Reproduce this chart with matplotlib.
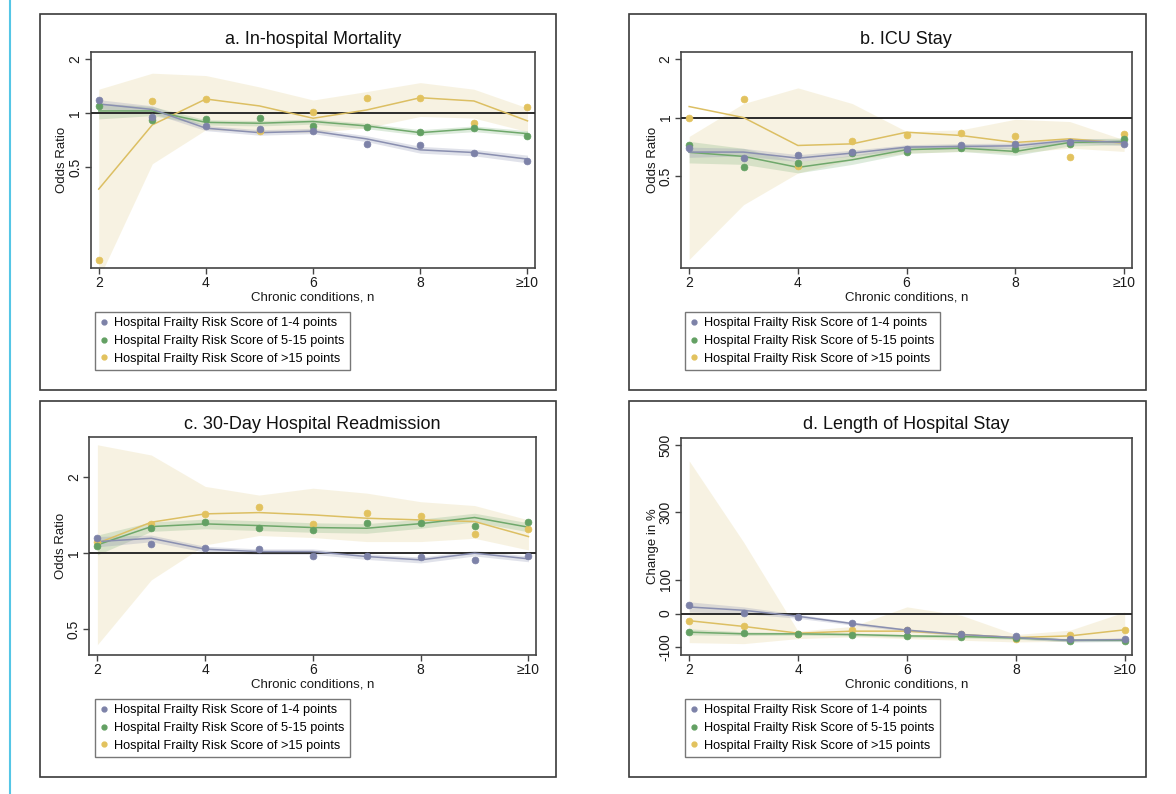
import matplotlib
matplotlib.use("Agg")
import matplotlib.pyplot as plt
from matplotlib.patches import Rectangle
from matplotlib.lines import Line2D
from matplotlib.ticker import NullLocator

plt.rcParams['font.family'] = ['Liberation Sans', 'DejaVu Sans']

# ---------------- data ----------------
conditions = [2, 3, 4, 5, 6, 7, 8, 9, 10]
xtick_vals = [2, 4, 6, 8, 10]
xtick_labels = ["2", "4", "6", "8", "\u226510"]
series_labels = ["Hospital Frailty Risk Score of 1-4 points",
                 "Hospital Frailty Risk Score of 5-15 points",
                 "Hospital Frailty Risk Score of >15 points"]
titles = ["a. In-hospital Mortality", "b. ICU Stay",
          "c. 30-Day Hospital Readmission", "d. Length of Hospital Stay"]
ylabels = ["Odds Ratio", "Odds Ratio", "Odds Ratio", "Change in %"]

# Panel a: in-hospital mortality (odds ratio)
a_low_pts = [1.185, 0.958, 0.854, 0.816, 0.798, 0.673, 0.665, 0.598, 0.545]
a_low_fit = [1.126, 1.05, 0.826, 0.78, 0.795, 0.72, 0.626, 0.605, 0.556]
a_low_lo = [1.06, 1.00, 0.80, 0.755, 0.77, 0.695, 0.60, 0.58, 0.53]
a_low_hi = [1.19, 1.10, 0.855, 0.81, 0.825, 0.75, 0.655, 0.63, 0.585]
a_mid_pts = [1.098, 0.918, 0.93, 0.938, 0.85, 0.844, 0.788, 0.833, 0.752]
a_mid_fit = [1.03, 1.03, 0.89, 0.88, 0.90, 0.85, 0.78, 0.82, 0.77]
a_mid_lo = [0.93, 0.97, 0.86, 0.85, 0.87, 0.82, 0.755, 0.79, 0.745]
a_mid_hi = [1.14, 1.09, 0.92, 0.91, 0.93, 0.88, 0.81, 0.85, 0.80]
a_high_pts = [0.153, 1.17, 1.206, 0.798, 1.013, 1.21, 1.216, 0.88, 1.089]
a_high_fit = [0.379, 0.862, 1.2, 1.098, 0.938, 1.043, 1.22, 1.17, 0.907]
a_high_lo = [0.12, 0.524, 0.81, 0.79, 0.78, 0.83, 0.96, 0.94, 0.79]
a_high_hi = [1.36, 1.67, 1.62, 1.40, 1.185, 1.32, 1.48, 1.36, 1.07]

# Panel b: ICU stay (odds ratio)
b_low_pts = [0.697, 0.619, 0.642, 0.665, 0.689, 0.722, 0.733, 0.751, 0.73]
b_low_fit = [0.665, 0.665, 0.619, 0.657, 0.705, 0.711, 0.716, 0.763, 0.745]
b_low_lo = [0.625, 0.635, 0.595, 0.635, 0.685, 0.69, 0.695, 0.74, 0.72]
b_low_hi = [0.705, 0.695, 0.645, 0.68, 0.725, 0.735, 0.74, 0.785, 0.77]
b_mid_pts = [0.719, 0.557, 0.584, 0.657, 0.667, 0.694, 0.689, 0.733, 0.778]
b_mid_fit = [0.663, 0.632, 0.555, 0.607, 0.684, 0.697, 0.67, 0.745, 0.754]
b_mid_lo = [0.585, 0.575, 0.52, 0.575, 0.655, 0.67, 0.64, 0.715, 0.725]
b_mid_hi = [0.755, 0.695, 0.595, 0.64, 0.715, 0.725, 0.70, 0.775, 0.785]
b_high_pts = [1.0, 1.246, 0.561, 0.76, 0.812, 0.838, 0.806, 0.627, 0.822]
b_high_fit = [1.139, 1.0, 0.719, 0.733, 0.841, 0.809, 0.745, 0.778, 0.739]
b_high_lo = [0.187, 0.357, 0.519, 0.607, 0.657, 0.67, 0.657, 0.697, 0.67]
b_high_hi = [0.80, 1.18, 1.42, 1.18, 0.848, 0.865, 0.98, 0.954, 0.769]

# Panel c: 30-day readmission (odds ratio)
c_low_pts = [1.146, 1.089, 1.047, 1.04, 0.979, 0.976, 0.97, 0.944, 0.979]
c_low_fit = [1.112, 1.146, 1.037, 1.015, 1.015, 0.97, 0.941, 1.0, 0.95]
c_low_lo = [1.06, 1.11, 1.01, 0.99, 0.99, 0.945, 0.915, 0.975, 0.925]
c_low_hi = [1.165, 1.18, 1.065, 1.04, 1.04, 0.995, 0.965, 1.025, 0.975]
c_mid_pts = [1.072, 1.264, 1.335, 1.256, 1.233, 1.314, 1.314, 1.287, 1.327]
c_mid_fit = [1.079, 1.275, 1.307, 1.287, 1.264, 1.256, 1.31, 1.385, 1.268]
c_mid_lo = [0.985, 1.22, 1.25, 1.23, 1.21, 1.20, 1.255, 1.33, 1.215]
c_mid_hi = [1.18, 1.33, 1.365, 1.345, 1.32, 1.31, 1.365, 1.44, 1.32]
c_high_pts = [1.112, 1.307, 1.427, 1.53, 1.307, 1.44, 1.405, 1.189, 1.245]
c_high_fit = [1.095, 1.327, 1.432, 1.449, 1.419, 1.376, 1.355, 1.335, 1.164]
c_high_lo = [0.434, 0.784, 1.079, 1.175, 1.154, 1.112, 1.112, 1.146, 1.03]
c_high_hi = [2.69, 2.45, 1.84, 1.70, 1.81, 1.73, 1.60, 1.545, 1.355]

# Panel d: length of stay (change in %)
d_low_pts = [24.6, 3, -10.8, -26.6, -49, -60, -66, -74, -75]
d_low_fit = [19.7, 9.9, -7.9, -29.6, -49, -62, -71, -79, -77]
d_low_lo = [5, 0, -14, -34, -53, -66, -75, -84, -82]
d_low_hi = [35, 20, -2, -25, -45, -58, -67, -74, -72]
d_mid_pts = [-54, -58, -60, -64, -65, -70, -71, -82, -80]
d_mid_fit = [-55, -60, -60, -62, -66, -68, -72, -79, -79]
d_mid_lo = [-63, -65, -64, -66, -70, -72, -76, -83, -83]
d_mid_hi = [-45, -54, -56, -58, -62, -64, -68, -75, -75]
d_high_pts = [-21, -38, -59, -50, -50, -60, -74, -62, -48]
d_high_fit = [-21, -38, -58, -52, -52, -62, -71, -66, -48]
d_high_lo = [-86, -89, -74, -69, -74, -79, -84, -82, -74]
d_high_hi = [453, 212, -52, -38, 20, -5, -62, -49, 5]

# ---------------- style ----------------
W, H = 1176, 794
pt_colors = ["#7d82a8", "#63a063", "#e2c25e"]
line_colors = ["#8a8fb0", "#6fa86b", "#dcbf63"]
band_colors = ["#8a8fb0", "#7fb27a", "#efe4bf"]
band_alpha = [0.26, 0.26, 0.45]

panels = [
    dict(pts=[a_low_pts, a_mid_pts, a_high_pts], fit=[a_low_fit, a_mid_fit, a_high_fit],
         lo=[a_low_lo, a_mid_lo, a_high_lo], hi=[a_low_hi, a_mid_hi, a_high_hi],
         log=True, ylim=(0.138, 2.19), yticks=[0.5, 1, 2], yticklabels=["0.5", "1", "2"], ref=1,
         ax=(90.7, 52, 535, 268), box=(40, 14, 556, 390), leg=(95, 312)),
    dict(pts=[b_low_pts, b_mid_pts, b_high_pts], fit=[b_low_fit, b_mid_fit, b_high_fit],
         lo=[b_low_lo, b_mid_lo, b_high_lo], hi=[b_low_hi, b_mid_hi, b_high_hi],
         log=True, ylim=(0.169, 2.17), yticks=[0.5, 1, 2], yticklabels=["0.5", "1", "2"], ref=1,
         ax=(681, 52, 1131.7, 268), box=(629, 14, 1146, 390), leg=(685, 312)),
    dict(pts=[c_low_pts, c_mid_pts, c_high_pts], fit=[c_low_fit, c_mid_fit, c_high_fit],
         lo=[c_low_lo, c_mid_lo, c_high_lo], hi=[c_low_hi, c_mid_hi, c_high_hi],
         log=True, ylim=(0.395, 2.88), yticks=[0.5, 1, 2], yticklabels=["0.5", "1", "2"], ref=1,
         ax=(89.3, 437.3, 536, 655), box=(40, 401, 556, 777), leg=(95, 699)),
    dict(pts=[d_low_pts, d_mid_pts, d_high_pts], fit=[d_low_fit, d_mid_fit, d_high_fit],
         lo=[d_low_lo, d_mid_lo, d_high_lo], hi=[d_low_hi, d_mid_hi, d_high_hi],
         log=False, ylim=(-122.7, 521.7), yticks=[-100, 0, 100, 300, 500],
         yticklabels=["-100", "0", "100", "300", "500"], ref=0,
         ax=(681, 437.7, 1132.3, 655), box=(629, 401, 1146, 777), leg=(685, 699)),
]

fig = plt.figure(figsize=(W / 100, H / 100), dpi=100)
fig.patch.set_facecolor("white")

# cyan page rule on the left
fig.add_artist(Line2D([10 / W, 10 / W], [0, 1], transform=fig.transFigure,
                      color="#55c6e6", lw=1.5))

for i, p in enumerate(panels):
    bx0, by0, bx1, by1 = p["box"]
    fig.add_artist(Rectangle((bx0 / W, 1 - by1 / H), (bx1 - bx0) / W, (by1 - by0) / H,
                             transform=fig.transFigure, fill=False, ec="#3a3a3a", lw=1.2))
    x0, y0, x1, y1 = p["ax"]
    ax = fig.add_axes([x0 / W, 1 - y1 / H, (x1 - x0) / W, (y1 - y0) / H])
    if p["log"]:
        ax.set_yscale("log")
    ax.set_xlim(1.85, 10.14)
    ax.set_ylim(*p["ylim"])

    # bands (high group drawn first, beneath)
    for k in [2, 1, 0]:
        ax.fill_between(conditions, p["lo"][k], p["hi"][k], color=band_colors[k],
                        alpha=band_alpha[k], lw=0, zorder=1 + (2 - k) * 0.1)
    ax.axhline(p["ref"], color="#2b2b2b", lw=1.4, zorder=3)
    for k in [2, 1, 0]:
        ax.plot(conditions, p["fit"][k], color=line_colors[k], lw=1.1, zorder=4)
        ax.scatter(conditions, p["pts"][k], s=24, color=pt_colors[k],
                   edgecolors=pt_colors[k], linewidths=0.5, zorder=5)

    ax.set_xticks(xtick_vals)
    ax.set_xticklabels(xtick_labels, fontsize=10)
    ax.yaxis.set_minor_locator(NullLocator())
    ax.xaxis.set_minor_locator(NullLocator())
    ax.set_yticks(p["yticks"])
    ax.set_yticklabels(p["yticklabels"], fontsize=10, rotation=90, va="center")
    ax.tick_params(axis="both", direction="out", length=4, width=1, color="#444444",
                   labelcolor="#1a1a1a", pad=2)
    for s in ax.spines.values():
        s.set_color("#444444")
        s.set_linewidth(1.2)
    ax.set_xlabel("Chronic conditions, n", fontsize=9.5, labelpad=1, color="#1a1a1a")
    ax.set_ylabel(ylabels[i], fontsize=9.5, labelpad=0, color="#1a1a1a")
    ax.set_title(titles[i], fontsize=13, pad=6, color="#111111")

    handles = [Line2D([], [], ls="none", marker="o", markersize=3.5,
                      markerfacecolor=pt_colors[k], markeredgecolor=pt_colors[k])
               for k in range(3)]
    lx, ly = p["leg"]
    leg = fig.legend(handles, series_labels, loc="upper left",
                     bbox_to_anchor=(lx / W, 1 - ly / H), bbox_transform=fig.transFigure,
                     fontsize=9.2, frameon=True, fancybox=False, borderpad=0.4,
                     labelspacing=0.46, handlelength=0.6, handletextpad=0.5,
                     borderaxespad=0)
    fr = leg.get_frame()
    fr.set_edgecolor("#555555")
    fr.set_linewidth(1.0)

fig.savefig("out.png", dpi=100, facecolor="white")
